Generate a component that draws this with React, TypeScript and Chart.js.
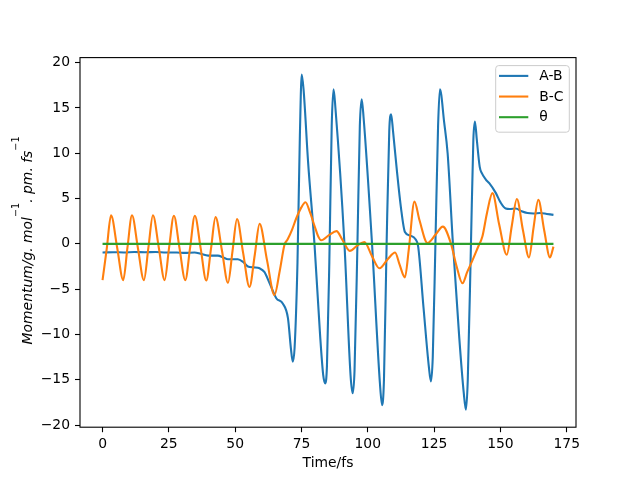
import { useEffect, useRef } from 'react';
import { Chart, registerables } from 'chart.js';

Chart.register(...registerables);

const FONT = "'DejaVu Sans', sans-serif";

const xTicks = [0, 25, 50, 75, 100, 125, 150, 175];
const yTicks = [-20, -15, -10, -5, 0, 5, 10, 15, 20];

const seriesNames = ['A-B', 'B-C', 'θ'];
const seriesColors = ['#1f77b4', '#ff7f0e', '#2ca02c'];

// A-B momentum
const abTime = [
  0, 4, 8, 12, 16, 20, 24, 28, 31, 34.7, 37, 39.8, 43.5, 45.5, 47.3, 51, 53, 54.8, 57, 59.2,
  61, 63, 65.5, 68, 69.9, 71, 71.7, 72.4, 73.5, 74.4, 75.1, 75.8, 77.5, 79.9, 82, 83.2, 83.9,
  84.6, 85.5, 86.4, 87.1, 87.8, 91.2, 93.5, 94.3, 95, 96.1, 97, 97.7, 98.4, 101.6, 104.6, 105.4,
  106.1, 107.1, 108.1, 108.8, 109.5, 111, 112.5, 114, 116, 118, 119, 121, 123, 123.8, 124.5,
  125.5, 126.5, 127.2, 128.8, 130.1, 132, 134.5, 136.2, 137, 137.7, 138.9, 139.8, 140.4, 141.1,
  142.2, 143, 144.5, 145.8, 148.3, 150, 152, 153.5, 155.8, 158, 160.2, 162.5, 165, 167.5, 170,
];
const abMomentum = [
  -0.95, -0.92, -0.95, -0.9, -0.92, -0.9, -0.95, -0.95, -1.0, -0.95, -1.1, -1.3, -1.3, -1.5, -1.7,
  -1.7, -2.0, -2.5, -2.6, -2.7, -3.1, -4.35, -6.0, -6.6, -8.2, -11.5, -13.0, -11.5, -2, 12, 18.7,
  17, 9, 0, -10, -14.5, -15.4, -13.5, -2, 13, 17.06, 15, 0, -14.5, -16.5, -14, 0, 13, 15.96, 14, 0,
  -15.5, -17.8, -15, 0, 12.5, 14.3, 12.5, 8, 4, 1.3, 0.9, 0.5, -0.3, -7, -13.5, -15.2, -12.5, 0,
  13, 17.06, 13.4, 10.0, 0.5, -10.4, -16.5, -18.3, -15, 0, 11.5, 13.5, 11.5, 8.5, 7.8, 7.1, 6.7,
  5.6, 4.6, 3.9, 3.85, 3.9, 3.6, 3.4, 3.35, 3.4, 3.3, 3.2,
];

// B-C momentum
const bcTime = [
  0, 1.6, 3.2, 5.5, 7.8, 9.4, 11.1, 13.3, 15.6, 17.3, 19, 21.2, 23.4, 25.1, 26.9, 29, 31.2, 33,
  34.8, 37, 39.1, 40.9, 42.6, 45, 47.3, 49, 50.7, 53, 55.4, 57.4, 59.2, 62, 64.8, 66.8, 68.6, 69.8,
  71.5, 73, 74.9, 76.5, 78.2, 79.9, 81.2, 82.4, 85.5, 88.2, 90.5, 93.2, 96, 98.7, 101.5, 104.4,
  107.5, 110.3, 112, 114, 115.5, 117.6, 119.5, 122.5, 125.5, 128.3, 131.3, 133.5, 135.7, 137.5,
  139.5, 141.5, 143.2, 145, 147, 149.5, 152.4, 154.3, 156.2, 158.5, 160.8, 162.5, 164.3, 166.5,
  168.7, 170,
];
const bcMomentum = [
  -4.0, -0.5, 3.15, -0.4, -4.0, -0.4, 3.15, -0.4, -4.0, -0.4, 3.15, -0.4, -4.0, -0.4, 3.1, -0.45,
  -4.0, -0.45, 3.1, -0.5, -4.05, -0.5, 2.95, -0.7, -4.3, -0.8, 2.75, -1.0, -4.75, -1.2, 2.2, -1.8,
  -5.65, -3.0, -0.1, 0.5, 1.6, 2.8, 4.0, 4.6, 3.5, 2.0, 0.9, 0.4, 1.0, 1.4, 0.4, -0.78, -0.2, 0.2,
  -1.3, -2.7, -1.7, -0.95, -2.3, -3.7, -0.5, 4.66, 2.6, 0.1, 1.0, 1.9, 0.07, -2.5, -4.35, -3.1,
  -1.8, -0.4, 0.8, 3.5, 5.6, 2.2, -1.2, 2.0, 4.95, 1.5, -1.5, 1.8, 4.85, 1.5, -1.5, -0.3,
];

const thetaTime = [0, 170];
const thetaMomentum = [0, 0];

const seriesTime = [abTime, bcTime, thetaTime];
const seriesValues = [abMomentum, bcMomentum, thetaMomentum];

// y label pieces: [text, superscript?]
const yLabelParts: [string, boolean][] = [
  ['Momentum/g. mol', false],
  ['\u22121', true],
  ['. pm. fs', false],
  ['\u22121', true],
];

const fmt = (v: number) => (v < 0 ? '\u2212' + Math.abs(v) : String(v));

const framePlugin = {
  id: 'frame',
  afterDatasetsDraw(chart: any) {
    const { ctx, chartArea } = chart;
    const { left, top, right, bottom } = chartArea;
    ctx.save();
    ctx.strokeStyle = '#000';
    ctx.lineWidth = 1.1;
    ctx.strokeRect(left, top, right - left, bottom - top);
    ctx.restore();
  },
};

// mathtext-like rotated y label
const yLabelPlugin = {
  id: 'yLabel',
  afterDraw(chart: any) {
    const { ctx, chartArea } = chart;
    const mainFont = `italic 13.9px ${FONT}`;
    const supFont = `9.7px ${FONT}`;
    ctx.save();
    let total = 0;
    const widths = yLabelParts.map(([txt, sup]) => {
      ctx.font = sup ? supFont : mainFont;
      const w = ctx.measureText(txt).width;
      total += w;
      return w;
    });
    const cy = (chartArea.top + chartArea.bottom) / 2 - 2;
    ctx.translate(32.3, cy + total / 2);
    ctx.rotate(-Math.PI / 2);
    ctx.fillStyle = '#000';
    ctx.textBaseline = 'alphabetic';
    ctx.textAlign = 'left';
    let x = 0;
    yLabelParts.forEach(([txt, sup], i) => {
      ctx.font = sup ? supFont : mainFont;
      ctx.fillText(txt, x, sup ? -13 : 0);
      x += widths[i];
    });
    ctx.restore();
  },
};

// matplotlib-style legend box in the upper right corner
const legendPlugin = {
  id: 'boxLegend',
  afterDraw(chart: any) {
    const { ctx, chartArea } = chart;
    const w = 73.6;
    const h = 66.6;
    const x0 = chartArea.right - 6.7 - w;
    const y0 = chartArea.top + 8;
    ctx.save();
    ctx.beginPath();
    ctx.roundRect(x0, y0, w, h, 3);
    ctx.fillStyle = 'rgba(255,255,255,0.8)';
    ctx.fill();
    ctx.strokeStyle = '#cccccc';
    ctx.lineWidth = 1;
    ctx.stroke();
    ctx.font = `13.9px ${FONT}`;
    ctx.textBaseline = 'middle';
    ctx.textAlign = 'left';
    seriesNames.forEach((name, i) => {
      const y = y0 + 10.3 + i * 20.65;
      ctx.beginPath();
      ctx.moveTo(x0 + 3.3, y);
      ctx.lineTo(x0 + 32.6, y);
      ctx.strokeStyle = seriesColors[i];
      ctx.lineWidth = 2.1;
      ctx.stroke();
      ctx.fillStyle = '#000';
      ctx.fillText(name, x0 + 43.6, y + 0.5);
    });
    ctx.restore();
  },
};

export default function App() {
  const canvasRef = useRef<HTMLCanvasElement>(null);

  useEffect(() => {
    document.body.style.margin = '0';
    if (!canvasRef.current) return;

    const tickFont = { family: FONT, size: 13.9 };

    const chart = new Chart(canvasRef.current, {
      type: 'line',
      data: {
        datasets: seriesNames.map((name, i) => ({
          label: name,
          data: seriesTime[i].map((t, j) => ({ x: t, y: seriesValues[i][j] })),
          borderColor: seriesColors[i],
          backgroundColor: seriesColors[i],
          borderWidth: 2.1,
          pointRadius: 0,
          fill: false,
          cubicInterpolationMode: 'monotone' as const,
          order: 2 - i,
        })),
      },
      options: {
        animation: false,
        responsive: false,
        layout: { padding: { top: 57.6, right: 64, bottom: 0, left: 0 } },
        plugins: {
          legend: { display: false },
          tooltip: { enabled: false },
        },
        scales: {
          x: {
            type: 'linear',
            min: -8.5,
            max: 178.5,
            afterBuildTicks: (s: any) => {
              s.ticks = xTicks.map((v) => ({ value: v }));
            },
            afterFit: (s: any) => {
              s.height = 52.8;
            },
            grid: {
              drawOnChartArea: false,
              drawTicks: true,
              tickLength: 5,
              tickColor: '#000',
              tickWidth: 1.1,
            },
            border: { display: false },
            ticks: {
              color: '#000',
              font: tickFont,
              padding: 4,
              maxRotation: 0,
              autoSkip: false,
              callback: (v: any) => fmt(Number(v)),
            },
            title: {
              display: true,
              text: 'Time/fs',
              color: '#000',
              font: tickFont,
              padding: { top: 0, bottom: 7.9 },
            },
          },
          y: {
            type: 'linear',
            min: -20.24,
            max: 20.56,
            afterBuildTicks: (s: any) => {
              s.ticks = yTicks.map((v) => ({ value: v }));
            },
            afterFit: (s: any) => {
              s.width = 80;
            },
            grid: {
              drawOnChartArea: false,
              drawTicks: true,
              tickLength: 5,
              tickColor: '#000',
              tickWidth: 1.1,
            },
            border: { display: false },
            ticks: {
              color: '#000',
              font: tickFont,
              padding: 5,
              autoSkip: false,
              callback: (v: any) => fmt(Number(v)),
            },
          },
        },
      },
      plugins: [framePlugin, yLabelPlugin, legendPlugin],
    });

    return () => chart.destroy();
  }, []);

  return (
    <div style={{ width: 640, height: 480, background: '#fff' }}>
      <canvas ref={canvasRef} width={640} height={480} style={{ display: 'block' }} />
    </div>
  );
}
